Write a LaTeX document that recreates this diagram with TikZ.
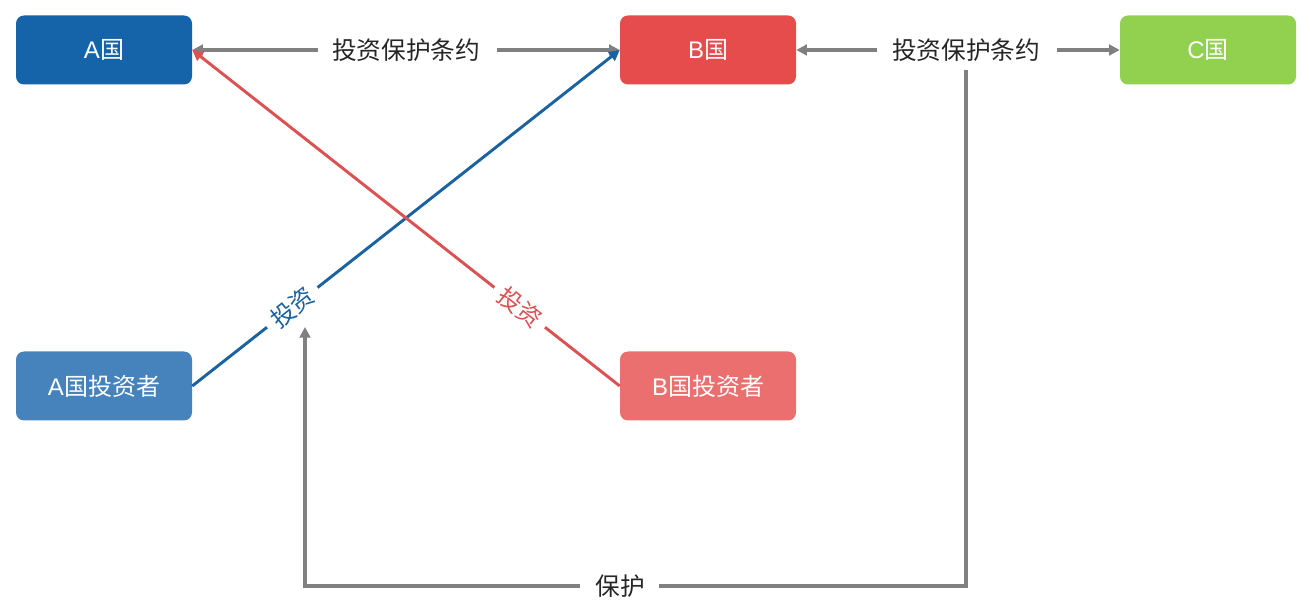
\documentclass[tikz,border=0pt]{standalone}
\usepackage{fontspec}
\setmainfont{Noto Sans CJK SC}
\newfontfamily\latinsans{Liberation Sans}
\usetikzlibrary{arrows.meta}
\definecolor{cA}{HTML}{1563A8}
\definecolor{cB}{HTML}{E64C4C}
\definecolor{cC}{HTML}{92D050}
\definecolor{cAI}{HTML}{4682BB}
\definecolor{cBI}{HTML}{EC6F6F}
\definecolor{lineBlue}{HTML}{1B62A0}
\definecolor{lineRed}{HTML}{DB5252}
\definecolor{lineGray}{HTML}{808080}
\tikzset{
  box/.style={rounded corners=6pt, minimum width=132pt, minimum height=51.75pt, inner sep=0pt, text=white, font=\fontsize{18}{20}\selectfont},
  graylink/.style={draw=lineGray, line width=2.6pt},
  grayarrow/.style={graylink, -{Triangle[length=8pt,width=8pt]}},
  lbl/.style={font=\fontsize{18.5}{20}\selectfont, inner sep=0pt, text=black!85},
  steplabel/.style={font=\fontsize{18}{20}\selectfont, fill=white, inner sep=6pt, sloped}
}
\begin{document}
\begin{tikzpicture}[x=0.75pt,y=-0.75pt]
\path[use as bounding box] (0,0) rectangle (1310,616);
\node[box, fill=cA] (A) at (104,50) {{\latinsans A}国};
\node[box, fill=cB] (B) at (708,50) {{\latinsans B}国};
\node[box, fill=cC] (C) at (1208,50) {{\latinsans C}国};
\node[box, fill=cAI] (AI) at (104,386) {{\latinsans A}国投资者};
\node[box, fill=cBI] (BI) at (708,386) {{\latinsans B}国投资者};
% treaty labels
\node[lbl] (T1) at (406,50) {投资保护条约};
\node[lbl] (T2) at (966,50) {投资保护条约};
% gray treaty arrows
\coordinate (T1w) at (318,50);
\coordinate (T1e) at (497,50);
\coordinate (T2w) at (877,50);
\coordinate (T2e) at (1057,50);
\coordinate (T2s) at (966,70);
\draw[grayarrow] (T1w) -- (A.east);
\draw[grayarrow] (T1e) -- (B.west);
\draw[grayarrow] (T2w) -- (B.east);
\draw[grayarrow] (T2e) -- (C.west);
% protection path
\node[lbl] (P) at (620,586) {保护};
\coordinate (Pw) at (580,586);
\coordinate (Pe) at (659,586);
\coordinate (corner1) at (966,586);
\coordinate (corner2) at (305,586);
\coordinate (tip) at (305,327);
\draw[graylink] (T2s) -- (corner1) -- (Pe);
\draw[grayarrow] (Pw) -- (corner2) -- (tip);
% investment lines
\draw[draw=lineBlue, line width=2.2pt, -{Triangle[length=8pt,width=8pt]}] (AI.east) -- node[steplabel, pos=0.234, text=lineBlue] {投资} (B.west);
\draw[draw=lineRed, line width=2.2pt, -{Triangle[length=8pt,width=8pt]}] (BI.west) -- node[steplabel, pos=0.234, text=lineRed] {投资} (A.east);
\end{tikzpicture}
\end{document}
